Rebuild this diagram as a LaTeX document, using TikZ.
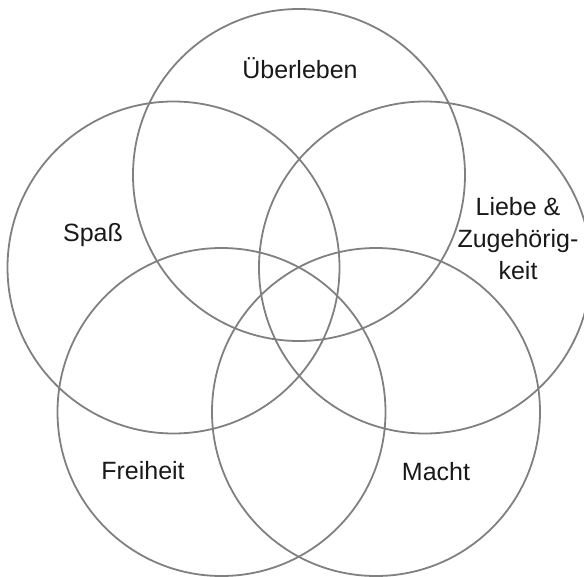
\documentclass[tikz,border=0pt]{standalone}
\usepackage{fontspec}
\setmainfont{Liberation Sans}
\begin{document}
\begin{tikzpicture}[x=1pt,y=-1pt,
  ring/.style={draw=black!50, line width=1.8pt},
  lbl/.style={font=\fontsize{25}{32}\selectfont, text=black!90, align=center, inner sep=0pt}]
\useasboundingbox (0,0) rectangle (584,576);
\draw[ring] (299,175) circle (166);
\draw[ring] (173.5,267.5) circle (166);
\draw[ring] (425,267.5) circle (166);
\draw[ring] (221.5,412) circle (164);
\draw[ring] (376,412) circle (164);
\node[lbl] (ueb) at (300,68) {Überleben};
\node[lbl] (spass) at (93,235) {Spaß};
\node[lbl] (liebe) at (518,239) {Liebe \&\\Zugehörig-\\keit};
\node[lbl] (frei) at (143,471) {Freiheit};
\node[lbl] (macht) at (436,472) {Macht};
\end{tikzpicture}
\end{document}
